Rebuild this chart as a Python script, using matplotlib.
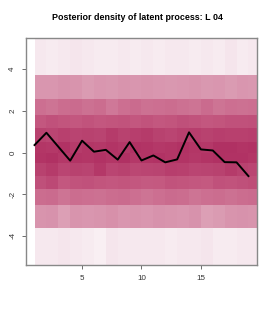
import numpy as np
import matplotlib.pyplot as plt
from matplotlib.colors import LinearSegmentedColormap

# time points and posterior mean of the latent process
tiempos = list(range(1, 20))
media = [0.36, 0.95, 0.28, -0.39, 0.57, 0.04, 0.13, -0.34, 0.50, -0.38,
         -0.14, -0.47, -0.33, 0.97, 0.15, 0.10, -0.46, -0.47, -1.13]

# y bin edges of the density image
bordes_y = [-5.6, -3.62, -2.52, -1.75, -1.13, -0.50, 0.0, 0.52, 1.18, 1.80, 2.57, 3.72, 5.6]

# density (0..1) per bin (rows bottom -> top) and per time point
densidad = [
    [0.07, 0.07, 0.08, 0.07, 0.06, 0.05, 0.08, 0.07, 0.07, 0.07, 0.07, 0.06, 0.07, 0.07, 0.08, 0.06, 0.06, 0.07, 0.07],
    [0.45, 0.46, 0.40, 0.45, 0.44, 0.45, 0.47, 0.44, 0.45, 0.44, 0.46, 0.45, 0.44, 0.46, 0.40, 0.42, 0.45, 0.46, 0.45],
    [0.63, 0.64, 0.60, 0.63, 0.62, 0.61, 0.63, 0.64, 0.62, 0.60, 0.62, 0.64, 0.63, 0.60, 0.62, 0.63, 0.61, 0.63, 0.64],
    [0.78, 0.82, 0.74, 0.76, 0.77, 0.75, 0.74, 0.75, 0.74, 0.72, 0.73, 0.76, 0.75, 0.74, 0.73, 0.77, 0.76, 0.78, 0.80],
    [0.86, 0.90, 0.84, 0.86, 0.85, 0.92, 0.84, 0.86, 0.83, 0.84, 0.85, 0.88, 0.87, 0.84, 0.85, 0.86, 0.90, 0.86, 0.84],
    [0.94, 0.96, 0.92, 0.94, 0.93, 0.95, 0.93, 0.96, 0.92, 0.94, 0.95, 0.93, 0.94, 0.92, 0.94, 0.96, 0.95, 0.95, 0.93],
    [0.93, 0.92, 0.95, 0.90, 0.93, 0.92, 0.94, 0.92, 0.95, 0.94, 0.92, 0.93, 0.95, 0.93, 0.92, 0.96, 0.96, 0.94, 0.95],
    [0.86, 0.84, 0.87, 0.85, 0.86, 0.85, 0.90, 0.86, 0.88, 0.90, 0.86, 0.84, 0.87, 0.88, 0.86, 0.88, 0.87, 0.87, 0.88],
    [0.74, 0.77, 0.75, 0.74, 0.76, 0.74, 0.75, 0.76, 0.74, 0.76, 0.74, 0.75, 0.78, 0.76, 0.74, 0.75, 0.77, 0.77, 0.78],
    [0.62, 0.60, 0.63, 0.64, 0.61, 0.63, 0.58, 0.62, 0.64, 0.61, 0.62, 0.63, 0.61, 0.60, 0.64, 0.60, 0.62, 0.61, 0.62],
    [0.44, 0.44, 0.46, 0.45, 0.42, 0.44, 0.43, 0.45, 0.44, 0.45, 0.44, 0.43, 0.44, 0.45, 0.43, 0.44, 0.42, 0.44, 0.43],
    [0.07, 0.06, 0.07, 0.08, 0.07, 0.06, 0.06, 0.07, 0.06, 0.07, 0.06, 0.07, 0.07, 0.06, 0.07, 0.06, 0.08, 0.06, 0.07],
]

titulo = "Posterior density of latent process: L 04"
ticks_x = [5, 10, 15]
ticks_y = [-4, -2, 0, 2, 4]

plt.rcParams['font.family'] = ['Liberation Sans', 'DejaVu Sans']
cmap = LinearSegmentedColormap.from_list(
    "rosa", [(0.0, "#ffffff"), (0.07, "#f6e7ed"), (0.45, "#d894ad"),
             (0.7, "#c65e84"), (1.0, "#ad2a5e")])

fig = plt.figure(figsize=(2.75, 3.14), dpi=100)
ax = fig.add_axes([0.0945, 0.156, 0.84, 0.723])

bordes_x = np.arange(1, len(tiempos) + 2)
ax.pcolormesh(bordes_x, bordes_y, np.array(densidad), cmap=cmap, vmin=0, vmax=1,
              shading='flat', edgecolors='none')
ax.plot(tiempos, media, color='black', lw=1.4)

ax.set_xlim(0.28, 19.72)
ax.set_ylim(-5.4, 5.5)
ax.set_xticks(ticks_x)
ax.set_yticks(ticks_y)
ax.set_yticklabels([str(v) for v in ticks_y], rotation=90, va='center')
ax.tick_params(labelsize=5.8, length=3, width=0.6, color='#555555', labelcolor='#333333', pad=4)
for s in ax.spines.values():
    s.set_color('#888888')
    s.set_linewidth(1.0)

fig.text(0.5, 0.943, titulo, ha='center', va='center', fontsize=6.4, fontweight='bold')

fig.savefig("out.png", dpi=100)
